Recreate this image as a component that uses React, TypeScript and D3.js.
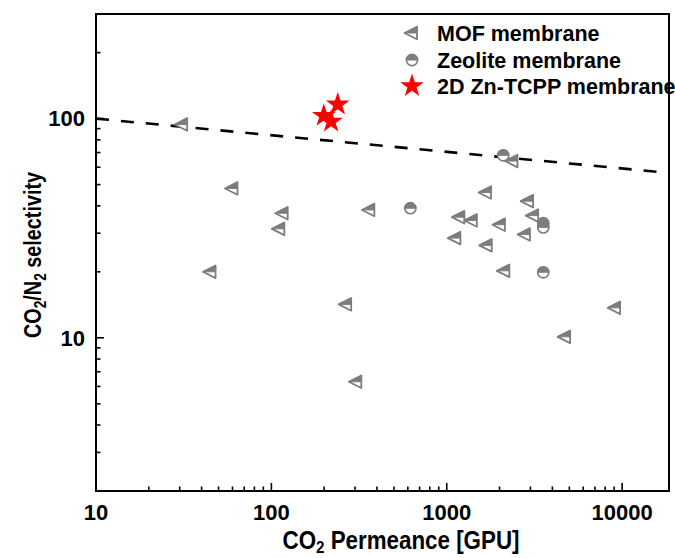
import React from 'react';
import * as d3 from 'd3';

const W = 675;
const H = 558;
const MARGIN = { top: 14, right: 6, bottom: 67, left: 96 };

// CO2 permeance (GPU) and CO2/N2 selectivity
const mofPerm = [31, 60, 116, 111, 45, 362, 267, 305, 2370, 1675, 2910, 1180, 1390, 2010, 3110, 1120, 2790, 1690, 2130, 4730, 9120];
const mofSel = [94, 48, 37, 31.4, 20, 38.3, 14.2, 6.3, 64, 46, 42, 35.5, 34.3, 32.8, 36.1, 28.5, 29.6, 26.4, 20.2, 10.1, 13.7];

const zeoPerm = [2100, 620, 3550, 3550, 3550];
const zeoSel = [68, 39, 33.3, 31.9, 19.9];

const znPerm = [239, 199, 219];
const znSel = [116, 103, 97];

// upper bound (dashed)
const boundPerm = [10, 18500];
const boundSel = [100, 56.5];

const xDomain = [10, 18500];
const yDomain = [2, 300];
const xMajor = [10, 100, 1000, 10000];
const yMajor = [10, 100];
const legendLabels = ['MOF membrane', 'Zeolite membrane', '2D Zn-TCPP membrane'];

const GRAY = '#7d7d7d';
const FONT = '"Liberation Sans", Arial, sans-serif';

function minorTicks(domain: number[]) {
  const out: number[] = [];
  for (let p = 1; p <= 5; p++) {
    for (let m = 2; m <= 9; m++) {
      const v = m * Math.pow(10, p - 1);
      if (v > domain[0] && v < domain[1]) out.push(v);
    }
  }
  return out;
}

function Triangle({ cx, cy }: { cx: number; cy: number }) {
  const w = 12.5, h = 6.3;
  const tip = [cx - w * 0.6, cy];
  const rt = [cx + w * 0.4, cy - h];
  const rb = [cx + w * 0.4, cy + h];
  const rm = [cx + w * 0.4, cy];
  const full = `M${tip}L${rt}L${rb}Z`;
  const half = `M${tip}L${rt}L${rm}Z`;
  return (
    <g>
      <path d={full} fill="#fff" stroke={GRAY} strokeWidth={1.8} strokeLinejoin="round" />
      <path d={half} fill={GRAY} stroke={GRAY} strokeWidth={1} strokeLinejoin="round" />
    </g>
  );
}

function HalfCircle({ cx, cy }: { cx: number; cy: number }) {
  const r = 5.6;
  return (
    <g>
      <circle cx={cx} cy={cy} r={r} fill="#fff" stroke={GRAY} strokeWidth={1.6} />
      <path d={`M${cx - r},${cy}A${r},${r} 0 0 1 ${cx + r},${cy}Z`} fill={GRAY} stroke={GRAY} strokeWidth={1} />
    </g>
  );
}

const starPath = d3.symbol().type(d3.symbolStar).size(175)() as string;

export default function App() {
  const iw = W - MARGIN.left - MARGIN.right;
  const ih = H - MARGIN.top - MARGIN.bottom;
  const x = d3.scaleLog().domain(xDomain).range([MARGIN.left, MARGIN.left + iw]);
  const y = d3.scaleLog().domain(yDomain).range([MARGIN.top + ih, MARGIN.top]);

  const xMinor = minorTicks(xDomain);
  const yMinor = minorTicks(yDomain);
  const x0 = MARGIN.left;
  const y0 = MARGIN.top + ih;

  const bound = d3.line<number>()
    .x((d) => x(boundPerm[d]))
    .y((d) => y(boundSel[d]))([0, 1]) as string;

  const legendX = 412;
  const legendY = [33, 60, 86];

  return (
    <svg width={W} height={H} style={{ position: 'absolute', left: 0, top: 0, background: '#fff' }} fontFamily={FONT}>
      <defs>
        <clipPath id="plot">
          <rect x={MARGIN.left} y={MARGIN.top} width={iw} height={ih} />
        </clipPath>
      </defs>

      {/* ticks, inside */}
      {xMajor.map((v) => (
        <line key={'xM' + v} x1={x(v)} x2={x(v)} y1={y0} y2={y0 - 8} stroke="#000" strokeWidth={1.6} />
      ))}
      {xMinor.map((v) => (
        <line key={'xm' + v} x1={x(v)} x2={x(v)} y1={y0} y2={y0 - 4.5} stroke="#000" strokeWidth={1.6} />
      ))}
      {yMajor.map((v) => (
        <line key={'yM' + v} x1={x0} x2={x0 + 8} y1={y(v)} y2={y(v)} stroke="#000" strokeWidth={1.6} />
      ))}
      {yMinor.map((v) => (
        <line key={'ym' + v} x1={x0} x2={x0 + 4.5} y1={y(v)} y2={y(v)} stroke="#000" strokeWidth={1.6} />
      ))}

      {/* tick labels */}
      {xMajor.map((v) => (
        <text key={'xl' + v} x={x(v)} y={520} textAnchor="middle" fontSize={22} fontWeight="bold">
          {v}
        </text>
      ))}
      {yMajor.map((v) => (
        <text key={'yl' + v} x={85} y={y(v) + 7.8} textAnchor="end" fontSize={22} fontWeight="bold">
          {v}
        </text>
      ))}

      {/* axis titles */}
      <text x={401} y={549} textAnchor="middle" fontSize={25} fontWeight="bold" textLength={237} lengthAdjust="spacingAndGlyphs">
        CO<tspan fontSize={17} dy={4}>2</tspan><tspan dy={-4}> Permeance [GPU]</tspan>
      </text>
      <text transform={`translate(41,${255}) rotate(-90)`} textAnchor="middle" fontSize={23} fontWeight="bold" textLength={166} lengthAdjust="spacingAndGlyphs">
        CO<tspan fontSize={16} dy={5}>2</tspan><tspan dy={-5}>/N</tspan><tspan fontSize={16} dy={5}>2</tspan><tspan dy={-5}> selectivity</tspan>
      </text>

      <g clipPath="url(#plot)">
        <path d={bound} fill="none" stroke="#000" strokeWidth={2.6} strokeDasharray="13 12" />

        {zeoPerm.map((p, i) => (
          <HalfCircle key={'z' + i} cx={x(p)} cy={y(zeoSel[i])} />
        ))}
        {mofPerm.map((p, i) => (
          <Triangle key={'m' + i} cx={x(p)} cy={y(mofSel[i])} />
        ))}
        {znPerm.map((p, i) => (
          <path key={'s' + i} d={starPath} transform={`translate(${x(p)},${y(znSel[i])})`} fill="#ff0000" />
        ))}
      </g>

      {/* frame */}
      <rect x={MARGIN.left} y={MARGIN.top} width={iw} height={ih} fill="none" stroke="#000" strokeWidth={2} />

      {/* legend */}
      <Triangle cx={legendX} cy={legendY[0]} />
      <HalfCircle cx={legendX} cy={legendY[1]} />
      <path d={starPath} transform={`translate(${legendX},${legendY[2]})`} fill="#ff0000" />
      {legendLabels.map((t, i) => (
        <text key={t} x={437} y={legendY[i] + 7.8} fontSize={21.5} fontWeight="bold">
          {t}
        </text>
      ))}
    </svg>
  );
}
